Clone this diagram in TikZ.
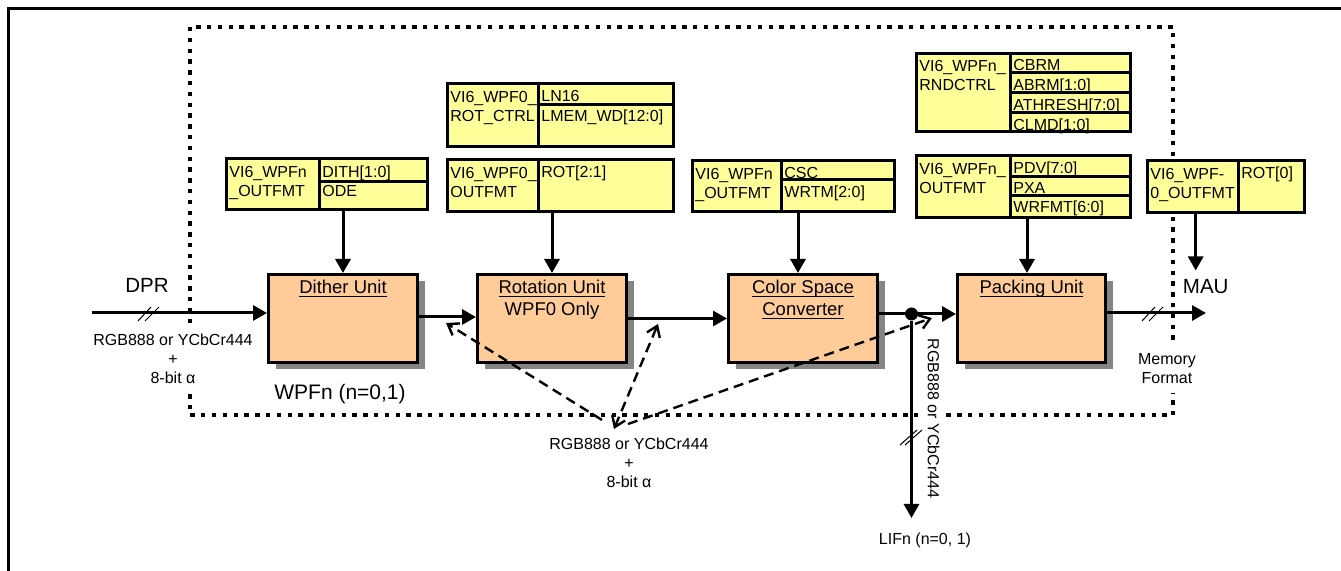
\documentclass[tikz,border=0pt]{standalone}
\usepackage{fontspec}
\setmainfont{Liberation Sans}
\usetikzlibrary{arrows.meta,positioning,calc,fit,shadows}
\definecolor{wpYellow}{HTML}{FFFF99}
\definecolor{wpPeach}{HTML}{FFCC99}
\definecolor{wpShade}{HTML}{858585}
\newcommand\unl[1]{\underline{\raisebox{0pt}[\height][0pt]{#1}}}

\begin{document}
\begin{tikzpicture}[x=0.5pt, y=-0.5pt,
  outer/.style={draw=black, line width=1.5pt},
  dotframe/.style={draw=black, line width=2pt, dash pattern=on 2.2pt off 3.2pt},
  reg/.style={fill=wpYellow, draw=black, line width=1.5pt, inner sep=0pt},
  regline/.style={draw=black, line width=1.5pt},
  regtxt/.style={font=\fontsize{8}{9.65}\selectfont, inner sep=0pt, align=left},
  unit/.style={fill=wpPeach, draw=black, line width=1.5pt, inner sep=0pt,
    drop shadow={shadow xshift=3.5pt, shadow yshift=-3.5pt, fill=wpShade, opacity=1}},
  unittxt/.style={font=\fontsize{9.25}{11}\selectfont, inner sep=0pt, anchor=base},
  flow/.style={draw=black, line width=1.5pt, -{Triangle[length=7pt, width=7.5pt]}},
  tap/.style={draw=black, line width=1.2pt, dash pattern=on 5pt off 3pt,
    -{Straight Barb[length=5pt, width=7pt]}},
  slash/.style={draw=black, line width=0.5pt},
  note/.style={font=\fontsize{8}{9.4}\selectfont, align=center, inner sep=0pt},
  big/.style={font=\fontsize{10.25}{12}\selectfont, inner sep=0pt, anchor=base},
  dot/.style={circle, fill=black, inner sep=0pt, minimum size=6.5pt},
]

\useasboundingbox (0,0) rectangle (1341,571);

% page frame, only top and left edge are inside the crop
\draw[outer] (8,600) -- (8,9) -- (1360,9);

% WPF block border
\draw[dotframe] (190,27) rectangle (1173,415.5);

% ---- registers
% dither
\node[reg, fit={(226.5,158.5) (427.5,209.5)}] (rdith) {};
\draw[regline] (319,158.5) -- (319,209.5) (319,182) -- (427.5,182);
\node[regtxt, anchor=north west] (rdith-n) at (229,165.7) {VI6\_WPFn\\\_OUTFMT};
\foreach \fld [count=\k from 0] in {DITH[1:0], ODE}
  \node[regtxt, anchor=base west] (rdith-f\k) at (322,177.7+19.3*\k) {\fld};

% rotation control
\node[reg, fit={(447.5,83.5) (673.5,146.5)}] (rrotctrl) {};
\draw[regline] (538,83.5) -- (538,146.5) (538,105) -- (673.5,105);
\node[regtxt, anchor=north west] (rrotctrl-n) at (450,90.7) {VI6\_WPF0\_\\ROT\_CTRL};
\foreach \fld [count=\k from 0] in {LN16, LMEM\_WD[12:0]}
  \node[regtxt, anchor=base west] (rrotctrl-f\k) at (541,102+19.5*\k) {\fld};

% rotation format
\node[reg, fit={(447.5,159.5) (673.5,211.5)}] (rrot) {};
\draw[regline] (538,159.5) -- (538,211.5);
\node[regtxt, anchor=north west] (rrot-n) at (450,166.5) {VI6\_WPF0\_\\OUTFMT};
\node[regtxt, anchor=base west] (rrot-f0) at (541,177.5) {ROT[2:1]};

% color space
\node[reg, fit={(692.5,160.5) (894.5,211.5)}] (rcsc) {};
\draw[regline] (781,160.5) -- (781,211.5) (781,180) -- (894.5,180);
\node[regtxt, anchor=north west] (rcsc-n) at (695,167.5) {VI6\_WPFn\\\_OUTFMT};
\foreach \fld [count=\k from 0] in {CSC, WRTM[2:0]}
  \node[regtxt, anchor=base west] (rcsc-f\k) at (784,178.5+19.3*\k) {\fld};

% rounding control
\node[reg, fit={(916.5,53.5) (1130.5,131.5)}] (rrnd) {};
\draw[regline] (1010,53.5) -- (1010,131.5);
\foreach \ry in {73, 93, 113}
  \draw[regline] (1010,\ry) -- (1130.5,\ry);
\node[regtxt, anchor=north west] (rrnd-n) at (919,59.5) {VI6\_WPFn\_\\RNDCTRL};
\foreach \fld [count=\k from 0] in {CBRM, ABRM[1:0], ATHRESH[7:0], CLMD[1:0]}
  \node[regtxt, anchor=base west] (rrnd-f\k) at (1013,70.7+19.9*\k) {\fld};

% packing format
\node[reg, fit={(916.5,155.5) (1130.5,217.5)}] (rpack) {};
\draw[regline] (1010,155.5) -- (1010,217.5);
\foreach \ry in {177, 196}
  \draw[regline] (1010,\ry) -- (1130.5,\ry);
\node[regtxt, anchor=north west] (rpack-n) at (919,162.5) {VI6\_WPFn\_\\OUTFMT};
\foreach \fld [count=\k from 0] in {PDV[7:0], PXA, WRFMT[6:0]}
  \node[regtxt, anchor=base west] (rpack-f\k) at (1013,174+19.5*\k) {\fld};

% rotation bit 0, sits on the border
\node[reg, fit={(1147.5,160.5) (1304.5,212.5)}] (rrot0) {};
\draw[regline] (1238,160.5) -- (1238,212.5);
\node[regtxt, anchor=north west] (rrot0-n) at (1150,167.5) {VI6\_WPF-\\0\_OUTFMT};
\node[regtxt, anchor=base west] (rrot0-f0) at (1241,179) {ROT[0]};

% ---- processing units
\node[unit, fit={(268.5,274.5) (417.5,362.5)}] (dith) {};
\node[unit, fit={(477.5,274.5) (626.5,362.5)}] (rot) {};
\node[unit, fit={(728.5,274.5) (877.5,362.5)}] (csc) {};
\node[unit, fit={(957.5,274.5) (1105.5,362.5)}] (pack) {};

\node[unittxt] (dith-t) at ([yshift=-10.25pt]dith.north) {\unl{Dither Unit}};
\node[unittxt] (rot-t1) at ([yshift=-10.25pt]rot.north) {\unl{Rotation Unit}};
\node[unittxt] (rot-t2) at ([yshift=-21.25pt]rot.north) {WPF0 Only};
\node[unittxt] (csc-t1) at ([yshift=-10.25pt]csc.north) {\unl{Color Space}};
\node[unittxt] (csc-t2) at ([yshift=-21.25pt]csc.north) {\unl{Converter}};
\node[unittxt] (pack-t) at ([yshift=-10.25pt]pack.north) {\unl{Packing Unit}};

% register -> unit
\draw[flow] (rdith.south -| dith.north) -- (dith.north);
\draw[flow] (rrot.south -| rot.north) -- (rot.north);
\draw[flow] ([xshift=-2.5pt]csc.north |- rcsc.south) -- ([xshift=-2.5pt]csc.north);
\draw[flow] ([xshift=-2.25pt]pack.north |- rpack.south) -- ([xshift=-2.25pt]pack.north);

% ---- data path
\node[big] (dpr) at (147,293) {DPR};
\node[big] (mau) at (1205.7,294) {MAU};
\coordinate (dprin) at (92,313);
\coordinate (mauout) at (1206,313);
\coordinate (lifout) at (911.5,518);
\node[dot] (split) at (911.5,314) {};

\draw[flow] (dprin) -- (dprin -| dith.west);
\draw[flow] ([yshift=0.75pt]dith.east) -- ([yshift=0.75pt]dith.east -| rot.west);
\draw[flow] (rot.east) -- (csc.west);
\draw[flow] (csc.east |- split) -- (pack.west |- split);
\draw[flow] (pack.east |- mauout) -- (mauout);
\draw[flow] (split) -- (lifout);
\draw[flow] ([xshift=-5pt]mau.north |- rrot0.south) -- ([xshift=-5pt, yshift=4.5pt]mau.north);

% bus width ticks
\foreach \sx in {149, 1153} {
  \draw[slash] (\sx-11,321) -- (\sx+2,307);
  \draw[slash] (\sx-4,321) -- (\sx+10,307);
}
\draw[slash] (900,445) -- (917,430);
\draw[slash] (905,445) -- (922,430);

% ---- labels
\node[note, fill=white, inner sep=5pt, anchor=north] (innote) at (173,324)
  {RGB888 or YCbCr444\\+\\8-bit α};
\node[note, fill=white, inner sep=5pt, anchor=north] (memfmt) at (1167,343)
  {Memory\\Format};
\node[note, fill=white, inner sep=2pt, rotate=-90] (lifnote) at (933.5,418.5)
  {RGB888 or YCbCr444};
\node[note, anchor=base] (lif) at (925,545) {LIFn (n=0, 1)};
\node[font=\fontsize{10.5}{12}\selectfont, inner sep=0pt, anchor=base] (wpfn)
  at (340,399.5) {WPFn (n=0,1)};
\node[note, anchor=north] (busnote) at (629,437.5)
  {RGB888 or YCbCr444\\+\\8-bit α};

% taps of the internal bus
\coordinate (tapA) at (446,323);
\coordinate (tapB) at (658,324);
\coordinate (tapC) at (932,318);
\coordinate (busA) at (602,420);
\coordinate (busB) at (614,429);
\coordinate (busC) at (628,424);
\draw[tap] (busA) -- (tapA);
\draw[tap, {Straight Barb[length=5pt, width=7pt]}-{Straight Barb[length=5pt, width=7pt]}]
  (busB) -- (tapB);
\draw[tap] (busC) -- (tapC);

\end{tikzpicture}
\end{document}
